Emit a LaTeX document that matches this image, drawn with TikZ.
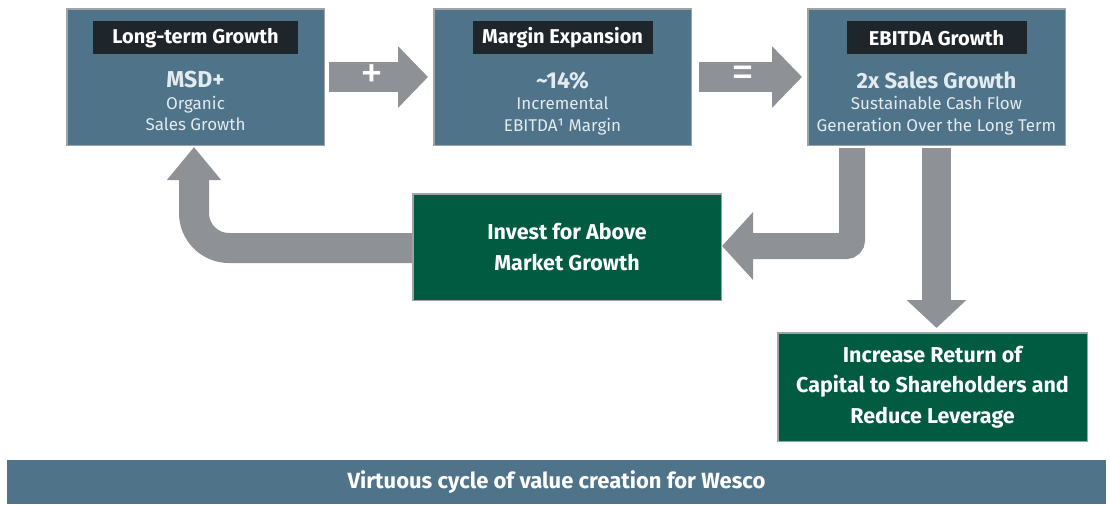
\documentclass[tikz,border=0pt]{standalone}
\usepackage{fontspec}
\setmainfont{Fira Sans}
\usetikzlibrary{arrows.meta,positioning}
\definecolor{wblue}{HTML}{4F7389}
\definecolor{wgreen}{HTML}{005B40}
\definecolor{wbar}{HTML}{1E252B}
\definecolor{wgray}{HTML}{8E9196}
\definecolor{wedge}{HTML}{9EA3A7}
\definecolor{wtext}{HTML}{E3EBF0}
\tikzset{
  bluebox/.style={rectangle,draw=wedge,line width=1.5pt,fill=wblue,
    minimum width=257.5pt,minimum height=136.5pt,inner sep=0pt},
  titlebar/.style={rectangle,fill=wbar,text=white,minimum height=33pt,
    inner sep=0pt,font=\bfseries\fontsize{20}{24}\selectfont},
  bodytext/.style={align=center,text=wtext,inner sep=0pt,
    font=\fontsize{17}{21.5}\selectfont},
  greenbox/.style={rectangle,draw=wedge,line width=1.5pt,fill=wgreen,
    text=white,align=center,inner sep=0pt,
    font=\bfseries\fontsize{21.5}{30.5}\selectfont},
  sign/.style={text=white,inner sep=0pt,font=\fontsize{46}{46}\selectfont},
  blockarrow/.style={draw=wgray,line width=30pt,
    -{Triangle[length=30pt,width=60pt]}}
}

\begin{document}
\begin{tikzpicture}[x=1pt,y=-1pt]
\useasboundingbox (0,0) rectangle (1110,504);

%% top row
\node[bluebox] (growth) at (195.5,77) {};
\node[bluebox] (margin) at (562.5,77) {};
\node[bluebox] (ebitda) at (936.5,77) {};

\node[titlebar,minimum width=205pt,below=13pt of growth.north] (growthT) {Long-term Growth};
\node[titlebar,minimum width=180pt,below=13pt of margin.north] (marginT) {Margin Expansion};
\node[titlebar,minimum width=180pt,below=13pt of ebitda.north] (ebitdaT) {EBITDA Growth};

\node[bodytext,below=17pt of growthT] (growthB)
  {{\bfseries\fontsize{23}{26}\selectfont MSD+}\\Organic\\Sales Growth};
\node[bodytext,below=17pt of marginT] (marginB)
  {{\bfseries\fontsize{23}{26}\selectfont\textasciitilde14\%}\\Incremental\\EBITDA¹ Margin};
\node[bodytext,below=17pt of ebitdaT] (ebitdaB)
  {{\bfseries\fontsize{22}{26}\selectfont 2x Sales Growth}\\Sustainable Cash Flow\\Generation Over the Long Term};

%% lower boxes
\node[greenbox,minimum width=308.5pt,minimum height=106.5pt] (invest) at (567,247)
  {Invest for Above\\Market Growth};
\node[greenbox,minimum width=309.5pt,minimum height=108.5pt] (payback) at (932.5,387)
  {Increase Return of\\Capital to Shareholders and\\Reduce Leverage};

%% banner
\node[rectangle,fill=wblue,text=white,minimum width=1099pt,minimum height=44pt,
  font=\bfseries\fontsize{22}{26}\selectfont] (banner) at (556.5,482)
  {Virtuous cycle of value creation for Wesco};

%% arrows
\draw[blockarrow] ([xshift=4pt]growth.east) -- ([xshift=-5pt]margin.west)
  node[sign,pos=.43] (plus) {+};
\draw[blockarrow] ([xshift=7pt]margin.east) -- ([xshift=-5pt]ebitda.west)
  node[sign,pos=.43] (equal) {=};

\draw[blockarrow,line width=26pt,rounded corners=6pt,-{Triangle[length=31pt,width=66pt]}]
  ([xshift=-84.5pt,yshift=-2pt]ebitda.south) |- ([yshift=1pt]invest.east);
\draw[blockarrow,rounded corners=35pt,-{Triangle[length=33pt,width=52pt]}]
  ([yshift=-1pt]invest.west) -| ([xshift=-1.5pt,yshift=-1pt]growth.south);
\draw[blockarrow,line width=29pt,-{Triangle[length=28pt,width=58pt]}]
  ([yshift=-2pt]ebitda.south) -- ([yshift=4pt]ebitda.south |- payback.north);

\end{tikzpicture}
\end{document}
